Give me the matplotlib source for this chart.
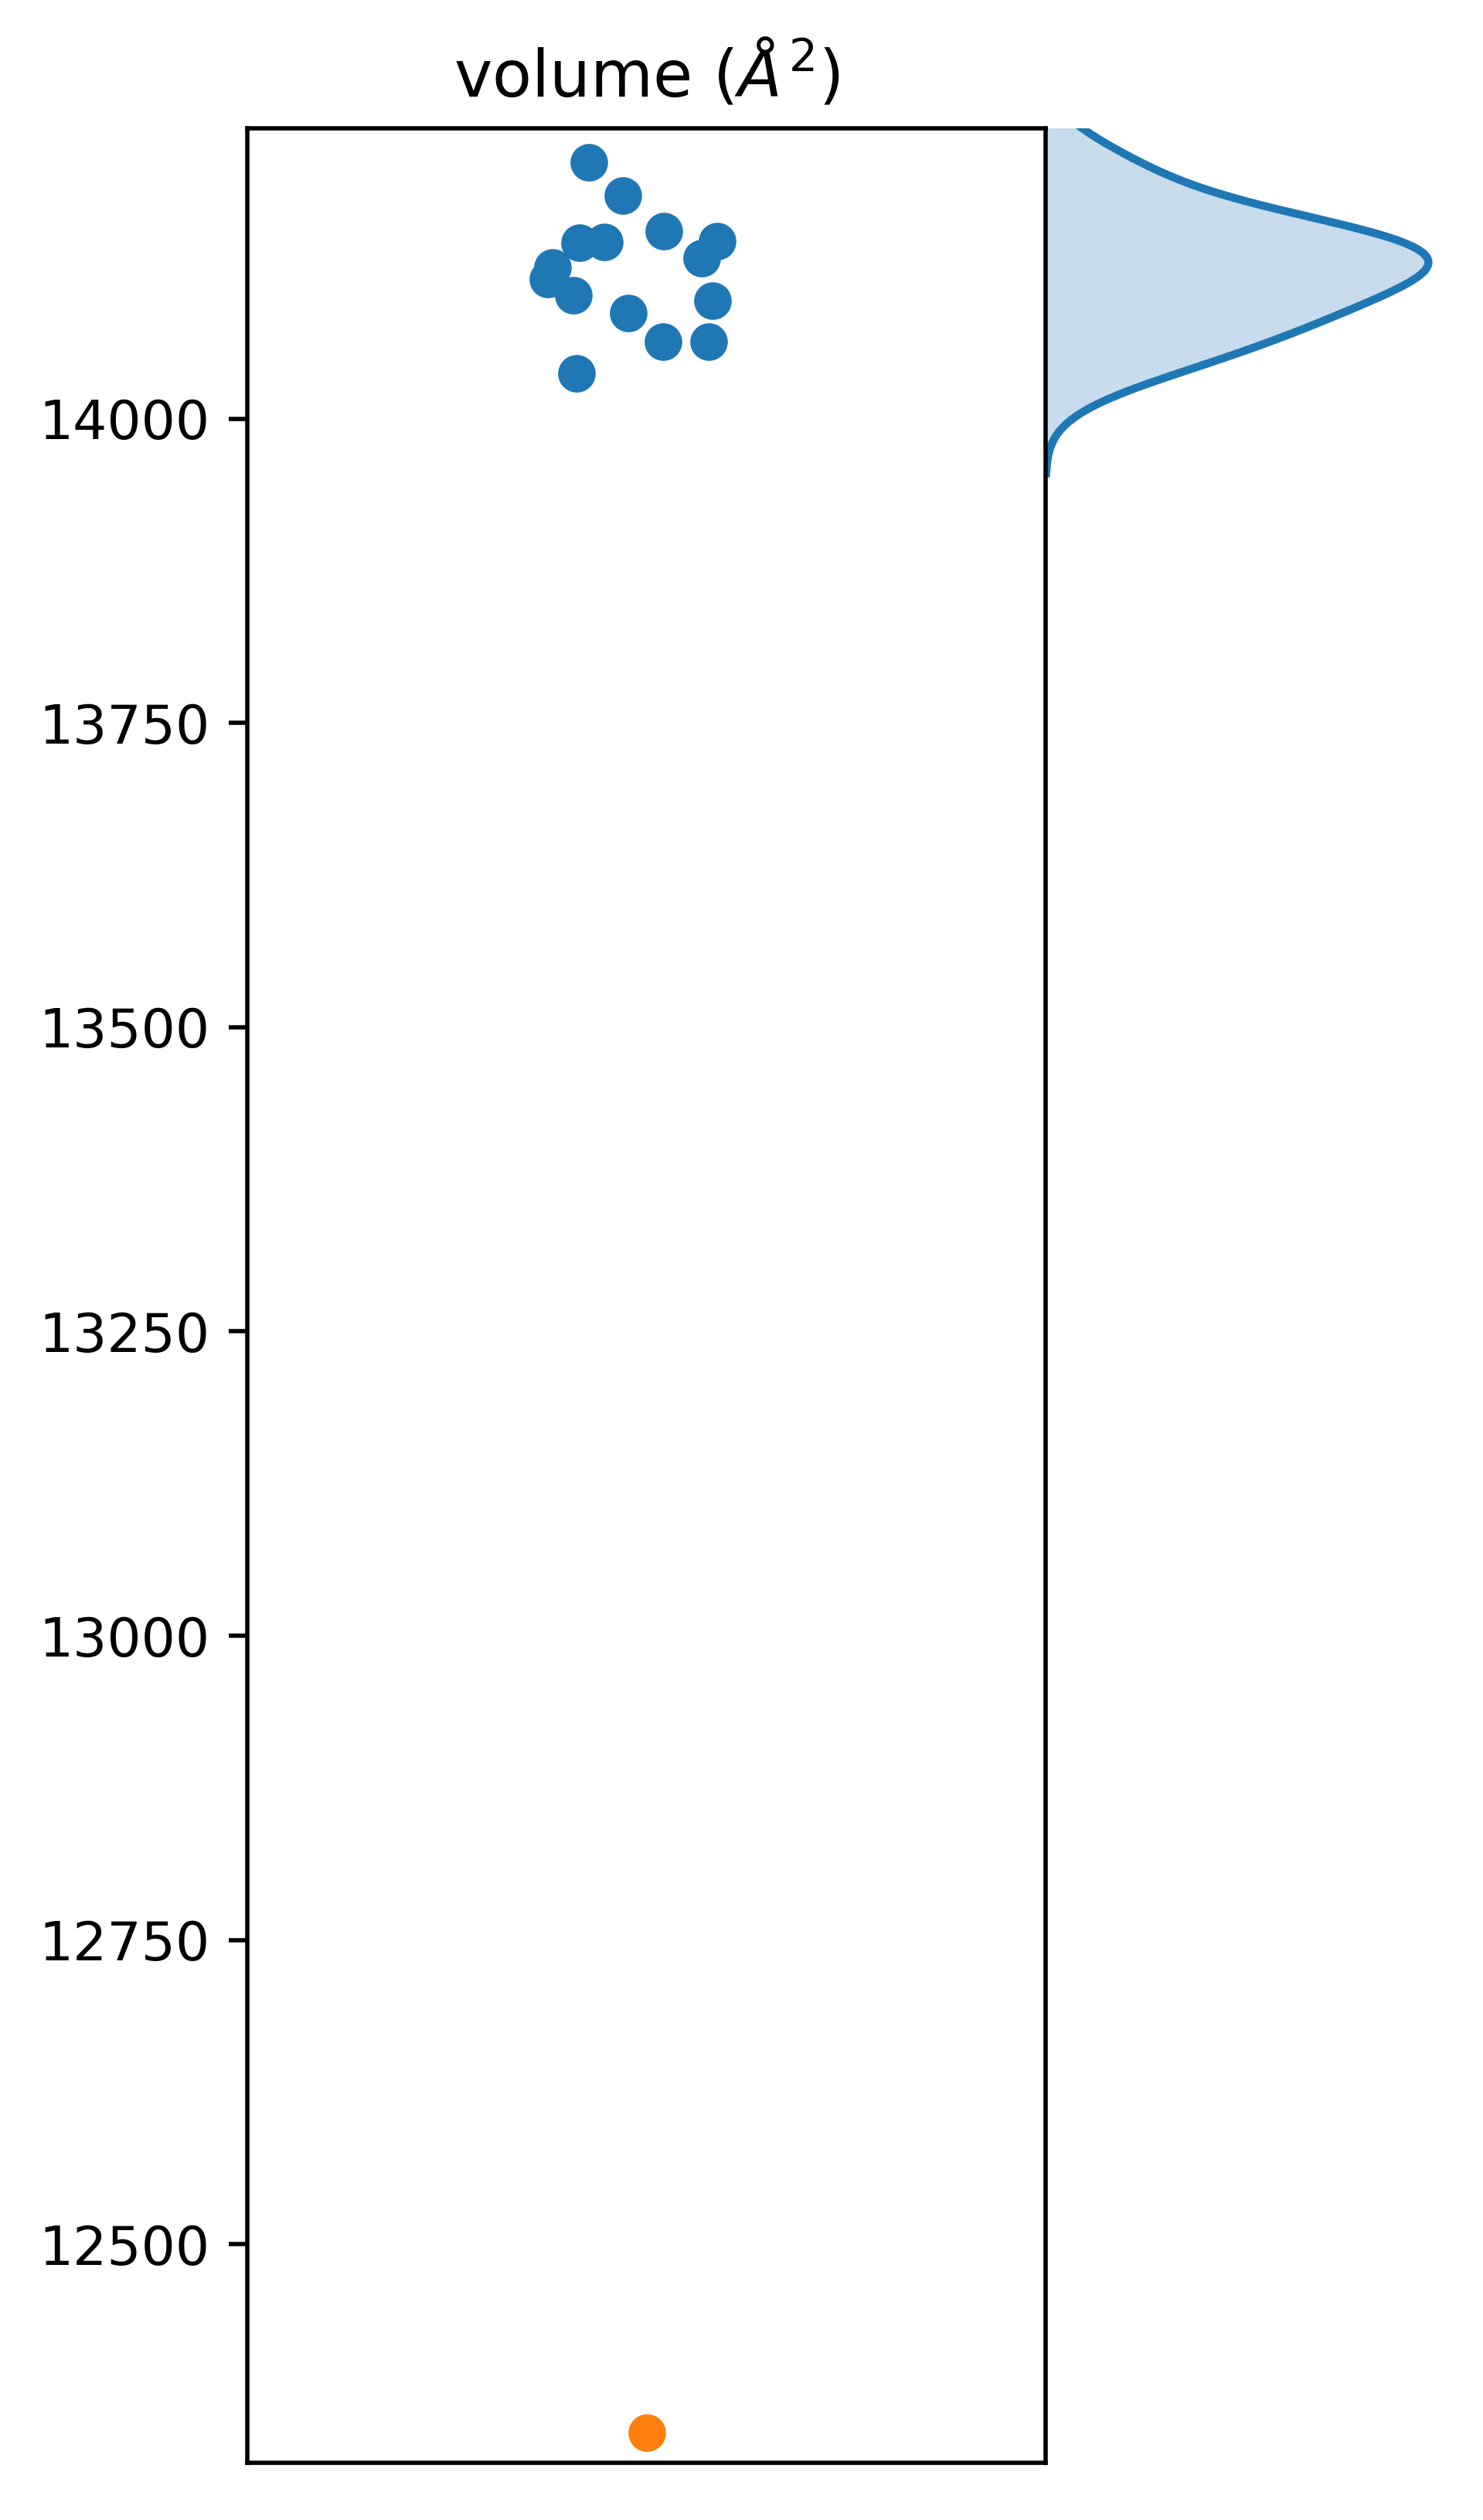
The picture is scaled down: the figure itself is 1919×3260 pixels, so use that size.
import matplotlib
matplotlib.use("Agg")
import matplotlib.pyplot as plt
import numpy as np

# volume values
volume_blue = [14210.7, 14183.2, 14154.0, 14144.6, 14145.1, 14145.7, 14131.7,
               14124.3, 14115.0, 14101.2, 14096.8, 14086.6, 14063.1, 14063.1,
               14037.1]
jitter_blue = [-0.072, -0.030, 0.022, -0.084, -0.053, 0.089, 0.069,
               -0.118, -0.123, -0.091, 0.083, -0.023, 0.021, 0.078,
               -0.088]
volume_orange = [12345.2]
jitter_orange = [0.0]

W, H, DPI = 1919, 3260, 500
fig = plt.figure(figsize=(W / DPI, H / DPI), dpi=DPI)
fig.patch.set_facecolor("white")

ax_left, ax_right, ax_top, ax_bottom = 320, 1353, 166, 3186
ax_kde = fig.add_axes([ax_right / W, (H - ax_bottom) / H,
                       (W - ax_right) / W, (ax_bottom - ax_top) / H])
ax = fig.add_axes([ax_left / W, (H - ax_bottom) / H,
                   (ax_right - ax_left) / W, (ax_bottom - ax_top) / H])
ax_kde.sharey(ax)

ax.scatter(jitter_blue, volume_blue, color="C0")
ax.scatter(jitter_orange, volume_orange, color="C1")
ax.set_xlim(-0.5, 0.5)
ax.set_xticks([])
ax.set_ylim(12320.4, 14238.6)
ax.set_yticks([12500, 12750, 13000, 13250, 13500, 13750, 14000])
ax.set_title(r"volume ($\AA^2$)")
ax.patch.set_visible(False)

# gaussian KDE (Scott's rule), seaborn-style cut=3
data = np.asarray(volume_blue)
bw = data.std(ddof=1) * len(data) ** (-1 / 5)
grid = np.linspace(data.min() - 3 * bw, data.max() + 3 * bw, 200)
dens = np.exp(-0.5 * ((grid[:, None] - data[None, :]) / bw) ** 2).sum(axis=1)
dens /= len(data) * bw * np.sqrt(2 * np.pi)

ax_kde.fill_betweenx(grid, 0, dens, color="C0", alpha=0.25, linewidth=0)
ax_kde.plot(dens, grid, color="C0", linewidth=1.5)
peak_px = 1848.4
ax_kde.set_xlim(0, dens.max() * (W - ax_right) / (peak_px - ax_right))
for s in ax_kde.spines.values():
    s.set_visible(False)
ax_kde.patch.set_visible(False)
ax_kde.set_xticks([])
ax_kde.tick_params(left=False, labelleft=False)
ax.set_ylim(12320.4, 14238.6)

fig.savefig("out.png", dpi=DPI, facecolor="white")
